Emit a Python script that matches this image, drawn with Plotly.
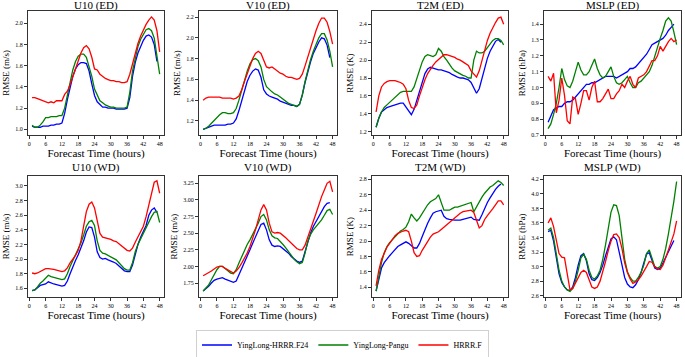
import plotly.graph_objects as go

HOURS = list(range(1, 49))
HOURS_F24 = list(range(1, 48))
SERIES_NAMES = ["YingLong-HRRR.F24", "YingLong-Pangu", "HRRR.F"]
COLORS = ["#0000ff", "#008000", "#ff0000"]

TITLES = ["U10 (ED)", "V10 (ED)", "T2M (ED)", "MSLP (ED)",
          "U10 (WD)", "V10 (WD)", "T2M (WD)", "MSLP (WD)"]
YLABELS = ["RMSE (m/s)", "RMSE (m/s)", "RMSE (K)", "RMSE (hPa)",
           "RMSE (m/s)", "RMSE (m/s)", "RMSE (K)", "RMSE (hPa)"]
X_TICKS = [0, 6, 12, 18, 24, 30, 36, 42, 48]

# ---- U10 (ED)
u10_ed_f24 = [1.03, 1.02, 1.02, 1.02, 1.03, 1.03, 1.03, 1.04, 1.04, 1.05, 1.05, 1.06, 1.15, 1.28, 1.40, 1.50,
              1.57, 1.61, 1.63, 1.63, 1.62, 1.55, 1.43, 1.32, 1.26, 1.23, 1.21, 1.21, 1.20, 1.20, 1.20, 1.19,
              1.19, 1.19, 1.19, 1.20, 1.30, 1.50, 1.63, 1.72, 1.79, 1.84, 1.88, 1.89, 1.87, 1.80, 1.64]
u10_ed_pangu = [1.04, 1.02, 1.02, 1.04, 1.07, 1.11, 1.11, 1.12, 1.12, 1.12, 1.13, 1.13, 1.20, 1.33, 1.46, 1.56,
                1.64, 1.69, 1.71, 1.71, 1.68, 1.60, 1.50, 1.38, 1.32, 1.27, 1.25, 1.23, 1.22, 1.21, 1.21, 1.20,
                1.20, 1.20, 1.20, 1.21, 1.35, 1.55, 1.68, 1.78, 1.85, 1.90, 1.94, 1.95, 1.93, 1.86, 1.70, 1.52]
u10_ed_hrrr = [1.30, 1.30, 1.29, 1.28, 1.27, 1.26, 1.25, 1.26, 1.25, 1.27, 1.27, 1.27, 1.33, 1.36, 1.42, 1.50,
               1.58, 1.66, 1.72, 1.77, 1.79, 1.76, 1.68, 1.57, 1.56, 1.52, 1.50, 1.48, 1.47, 1.46, 1.46, 1.45,
               1.45, 1.44, 1.44, 1.45, 1.52, 1.62, 1.72, 1.81, 1.88, 1.94, 1.99, 2.03, 2.06, 2.03, 1.93, 1.73]

# ---- V10 (ED)
v10_ed_f24 = [1.12, 1.13, 1.14, 1.15, 1.16, 1.16, 1.16, 1.16, 1.16, 1.17, 1.17, 1.18, 1.22, 1.30, 1.40, 1.50,
              1.58, 1.64, 1.68, 1.70, 1.69, 1.62, 1.50, 1.46, 1.44, 1.43, 1.42, 1.41, 1.39, 1.38, 1.37, 1.36,
              1.35, 1.35, 1.34, 1.36, 1.45, 1.57, 1.68, 1.77, 1.85, 1.91, 1.96, 2.00, 1.99, 1.93, 1.81]
v10_ed_pangu = [1.12, 1.13, 1.15, 1.18, 1.21, 1.24, 1.26, 1.28, 1.28, 1.27, 1.27, 1.28, 1.32, 1.40, 1.50, 1.60,
                1.68, 1.75, 1.79, 1.80, 1.78, 1.72, 1.60, 1.53, 1.50, 1.48, 1.46, 1.45, 1.43, 1.41, 1.39, 1.37,
                1.36, 1.35, 1.34, 1.36, 1.45, 1.58, 1.70, 1.79, 1.87, 1.94, 2.00, 2.04, 2.04, 1.98, 1.87, 1.72]
v10_ed_hrrr = [1.40, 1.42, 1.43, 1.43, 1.43, 1.43, 1.43, 1.42, 1.42, 1.42, 1.42, 1.41, 1.42, 1.44, 1.50, 1.58,
               1.66, 1.74, 1.80, 1.85, 1.87, 1.85, 1.78, 1.72, 1.71, 1.72, 1.70, 1.68, 1.66, 1.65, 1.63, 1.62,
               1.62, 1.61, 1.60, 1.61, 1.65, 1.73, 1.82, 1.91, 1.99, 2.07, 2.14, 2.19, 2.19, 2.15, 2.06, 1.94]

# ---- T2M (ED)
t2m_ed_f24 = [1.25, 1.35, 1.42, 1.45, 1.47, 1.48, 1.49, 1.50, 1.51, 1.52, 1.52, 1.48, 1.43, 1.39, 1.45, 1.55,
              1.66, 1.77, 1.85, 1.90, 1.92, 1.91, 1.90, 1.89, 1.89, 1.88, 1.87, 1.86, 1.84, 1.82, 1.81, 1.80,
              1.80, 1.79, 1.78, 1.75, 1.68, 1.63, 1.68, 1.80, 1.92, 2.02, 2.10, 2.16, 2.21, 2.23, 2.20]
t2m_ed_pangu = [1.25, 1.35, 1.42, 1.47, 1.50, 1.53, 1.55, 1.58, 1.61, 1.64, 1.65, 1.65, 1.65, 1.65, 1.70, 1.80,
                1.90, 1.98, 2.04, 2.06, 2.05, 2.04, 2.06, 2.13, 2.10, 2.04, 2.00, 1.95, 1.91, 1.88, 1.86, 1.84,
                1.83, 1.82, 1.80, 1.80, 2.00, 2.10, 2.08, 2.08, 2.10, 2.14, 2.18, 2.22, 2.24, 2.24, 2.22, 2.17]
t2m_ed_hrrr = [1.42, 1.60, 1.70, 1.74, 1.76, 1.77, 1.77, 1.77, 1.76, 1.75, 1.73, 1.68, 1.55, 1.47, 1.46, 1.50,
               1.60, 1.70, 1.78, 1.85, 1.90, 1.94, 1.98, 2.01, 2.04, 2.06, 2.06, 2.05, 2.04, 2.03, 2.01, 2.00,
               1.98, 1.96, 1.94, 1.88, 1.84, 1.81, 1.88, 2.00, 2.12, 2.22, 2.30, 2.37, 2.42, 2.47, 2.48, 2.40]

# ---- MSLP (ED)
mslp_ed_f24 = [0.78, 0.82, 0.86, 0.87, 0.88, 0.88, 0.90, 0.91, 0.91, 0.92, 0.94, 0.96, 0.98, 1.00, 1.02, 1.02,
               1.03, 1.03, 1.04, 1.05, 1.06, 1.07, 1.07, 1.07, 1.07, 1.06, 1.07, 1.08, 1.09, 1.10, 1.12, 1.12,
               1.13, 1.15, 1.17, 1.19, 1.21, 1.24, 1.27, 1.28, 1.29, 1.30, 1.31, 1.33, 1.36, 1.38, 1.40]
mslp_ed_pangu = [0.74, 0.77, 0.83, 0.90, 1.00, 1.12, 1.05, 1.01, 1.00, 1.04, 1.10, 1.16, 1.11, 1.08, 1.08, 1.10,
                 1.14, 1.18, 1.12, 1.08, 1.06, 1.07, 1.10, 1.13, 1.07, 1.03, 1.02, 1.03, 1.05, 1.07, 1.03, 1.00,
                 1.00, 1.03, 1.04, 1.06, 1.08, 1.10, 1.14, 1.20, 1.26, 1.31, 1.36, 1.42, 1.44, 1.42, 1.35, 1.27]
mslp_ed_hrrr = [1.07, 1.04, 1.09, 0.84, 0.92, 1.06, 0.95, 0.79, 0.77, 0.94, 0.93, 0.83, 0.90, 0.98, 0.98, 0.92,
                1.00, 1.04, 0.91, 0.91, 0.93, 0.96, 0.99, 0.93, 0.93, 0.96, 0.98, 1.02, 1.00, 1.04, 1.07, 1.02,
                1.00, 1.06, 1.07, 1.08, 1.10, 1.14, 1.17, 1.17, 1.20, 1.26, 1.23, 1.26, 1.29, 1.31, 1.29, 1.30]

# ---- U10 (WD)
u10_wd_f24 = [1.57, 1.58, 1.61, 1.64, 1.65, 1.66, 1.69, 1.67, 1.66, 1.65, 1.64, 1.63, 1.64, 1.70, 1.80, 1.90,
              1.98, 2.06, 2.15, 2.25, 2.37, 2.44, 2.43, 2.30, 2.10, 2.02, 2.00, 2.01, 1.99, 1.98, 1.96, 1.94,
              1.91, 1.87, 1.84, 1.83, 1.83, 1.92, 2.08, 2.20, 2.30, 2.38, 2.46, 2.60, 2.67, 2.70, 2.64]
u10_wd_pangu = [1.57, 1.58, 1.62, 1.67, 1.70, 1.74, 1.78, 1.76, 1.75, 1.74, 1.73, 1.72, 1.73, 1.80, 1.90, 1.98,
                2.05, 2.13, 2.22, 2.33, 2.45, 2.51, 2.53, 2.46, 2.25, 2.12, 2.08, 2.07, 2.05, 2.03, 2.01, 1.99,
                1.95, 1.91, 1.87, 1.85, 1.85, 1.95, 2.10, 2.20, 2.28, 2.34, 2.42, 2.50, 2.58, 2.64, 2.65, 2.50]
u10_wd_hrrr = [1.81, 1.80, 1.81, 1.83, 1.85, 1.87, 1.87, 1.87, 1.86, 1.85, 1.84, 1.83, 1.84, 1.88, 1.95, 2.00,
               2.05, 2.12, 2.25, 2.45, 2.65, 2.75, 2.78, 2.70, 2.50, 2.35, 2.30, 2.29, 2.29, 2.27, 2.25, 2.24,
               2.21, 2.18, 2.15, 2.12, 2.11, 2.15, 2.23, 2.30, 2.37, 2.45, 2.58, 2.75, 2.92, 3.05, 3.07, 2.90]

# ---- V10 (WD)
v10_wd_f24 = [1.63, 1.66, 1.70, 1.75, 1.79, 1.81, 1.82, 1.83, 1.81, 1.79, 1.77, 1.76, 1.78, 1.87, 1.97, 2.07,
              2.15, 2.25, 2.35, 2.45, 2.55, 2.63, 2.65, 2.55, 2.40, 2.32, 2.30, 2.31, 2.30, 2.27, 2.24, 2.20,
              2.15, 2.11, 2.08, 2.06, 2.08, 2.22, 2.38, 2.50, 2.60, 2.68, 2.76, 2.84, 2.90, 2.95, 2.96]
v10_wd_pangu = [1.63, 1.67, 1.72, 1.80, 1.88, 1.95, 2.00, 2.00, 1.97, 1.93, 1.90, 1.89, 1.95, 2.05, 2.15, 2.25,
                2.33, 2.40, 2.48, 2.55, 2.65, 2.75, 2.78, 2.70, 2.55, 2.46, 2.43, 2.42, 2.38, 2.33, 2.28, 2.22,
                2.17, 2.11, 2.07, 2.04, 2.06, 2.20, 2.38, 2.48, 2.55, 2.60, 2.65, 2.70, 2.77, 2.84, 2.86, 2.78]
v10_wd_hrrr = [1.86, 1.88, 1.90, 1.93, 1.96, 1.99, 2.00, 2.00, 1.97, 1.95, 1.93, 1.90, 1.93, 1.98, 2.05, 2.12,
               2.20, 2.30, 2.42, 2.55, 2.70, 2.85, 2.93, 2.85, 2.65, 2.52, 2.50, 2.51, 2.50, 2.47, 2.43, 2.39,
               2.35, 2.31, 2.27, 2.25, 2.25, 2.32, 2.45, 2.57, 2.68, 2.80, 2.93, 3.05, 3.15, 3.25, 3.28, 3.12]

# ---- T2M (WD)
t2m_wd_f24 = [1.35, 1.52, 1.65, 1.72, 1.77, 1.81, 1.85, 1.89, 1.93, 1.95, 1.97, 1.99, 1.97, 1.94, 1.91, 1.91,
              1.97, 2.06, 2.15, 2.23, 2.30, 2.36, 2.38, 2.39, 2.40, 2.32, 2.29, 2.28, 2.27, 2.27, 2.27, 2.27,
              2.28, 2.29, 2.30, 2.31, 2.28, 2.27, 2.27, 2.34, 2.43, 2.50, 2.56, 2.62, 2.67, 2.71, 2.74]
t2m_wd_pangu = [1.35, 1.55, 1.72, 1.85, 1.93, 1.98, 2.02, 2.06, 2.10, 2.13, 2.15, 2.18, 2.25, 2.35, 2.30, 2.26,
                2.30, 2.36, 2.42, 2.47, 2.51, 2.53, 2.55, 2.60, 2.50, 2.40, 2.40, 2.40, 2.42, 2.44, 2.44, 2.45,
                2.46, 2.47, 2.49, 2.50, 2.38, 2.45, 2.52, 2.57, 2.62, 2.66, 2.70, 2.72, 2.75, 2.78, 2.76, 2.72]
t2m_wd_hrrr = [1.42, 1.62, 1.76, 1.85, 1.92, 1.97, 2.02, 2.07, 2.10, 2.12, 2.13, 2.14, 2.12, 2.00, 1.85, 1.80,
               1.81, 1.88, 1.94, 2.00, 2.05, 2.09, 2.10, 2.12, 2.15, 2.18, 2.21, 2.25, 2.28, 2.31, 2.33, 2.36,
               2.38, 2.39, 2.40, 2.40, 2.37, 2.27, 2.17, 2.20, 2.28, 2.33, 2.37, 2.42, 2.47, 2.52, 2.52, 2.47]

# ---- MSLP (WD)
mslp_wd_f24 = [3.48, 3.50, 3.35, 3.10, 2.90, 2.78, 2.72, 2.68, 2.67, 2.72, 2.85, 3.02, 3.15, 3.18, 3.08, 2.90,
               2.82, 2.81, 2.85, 2.92, 3.02, 3.15, 3.28, 3.38, 3.41, 3.37, 3.20, 3.00, 2.85, 2.76, 2.72, 2.71,
               2.75, 2.82, 2.92, 3.05, 3.17, 3.19, 3.08, 2.98, 2.96, 2.98, 3.05, 3.13, 3.20, 3.28, 3.36]
mslp_wd_pangu = [3.50, 3.53, 3.40, 3.15, 2.95, 2.80, 2.72, 2.68, 2.66, 2.70, 2.80, 2.95, 3.12, 3.17, 3.10, 2.95,
                 2.85, 2.83, 2.87, 2.95, 3.10, 3.30, 3.55, 3.75, 3.85, 3.84, 3.70, 3.40, 3.10, 2.93, 2.85, 2.80,
                 2.80, 2.85, 2.92, 3.02, 3.18, 3.23, 3.12, 3.00, 2.98, 3.00, 3.10, 3.25, 3.45, 3.65, 3.90, 4.17]
mslp_wd_hrrr = [3.60, 3.67, 3.55, 3.35, 3.18, 3.13, 3.12, 2.90, 2.68, 2.70, 2.78, 2.85, 2.92, 2.95, 2.92, 2.82,
                2.72, 2.70, 2.72, 2.80, 2.92, 3.07, 3.22, 3.35, 3.44, 3.45, 3.40, 3.25, 3.05, 2.92, 2.83, 2.77,
                2.79, 2.82, 2.87, 2.93, 3.00, 3.07, 3.06, 3.00, 2.97, 2.96, 3.02, 3.12, 3.23, 3.32, 3.45, 3.63]

PANELS = [
    (u10_ed_f24, u10_ed_pangu, u10_ed_hrrr),
    (v10_ed_f24, v10_ed_pangu, v10_ed_hrrr),
    (t2m_ed_f24, t2m_ed_pangu, t2m_ed_hrrr),
    (mslp_ed_f24, mslp_ed_pangu, mslp_ed_hrrr),
    (u10_wd_f24, u10_wd_pangu, u10_wd_hrrr),
    (v10_wd_f24, v10_wd_pangu, v10_wd_hrrr),
    (t2m_wd_f24, t2m_wd_pangu, t2m_wd_hrrr),
    (mslp_wd_f24, mslp_wd_pangu, mslp_wd_hrrr),
]

Y_RANGES = [[0.947, 2.116], [1.065, 2.258], [1.163, 2.549], [0.70, 1.483],
            [1.482, 3.136], [1.54, 3.36], [1.275, 2.843], [2.582, 4.246]]
Y_DTICK = [0.2, 0.2, 0.2, 0.1, 0.2, 0.25, 0.2, 0.2]
Y_FMT = [".1f", ".1f", ".1f", ".1f", ".1f", ".2f", ".1f", ".1f"]

W, H = 685, 357
COL_PX = [(28, 164), (199, 337), (372, 508), (544, 681)]
ROW_PX = [(11, 135), (176, 297)]
TITLE_CENTER_PX = [5.5, 167.5]
LEGEND_CENTER_PX = 345

FONT = "Liberation Serif"

fig = go.Figure()
layout = dict(
    width=W, height=H, margin=dict(l=0, r=0, t=0, b=0, autoexpand=False),
    paper_bgcolor="white", plot_bgcolor="white",
    font=dict(family=FONT, color="black"),
    showlegend=True,
    legend=dict(orientation="h", x=0.5, xanchor="center", y=1 - LEGEND_CENTER_PX / H, yanchor="middle",
                bordercolor="#d0d0d0", borderwidth=1, font=dict(size=8, family=FONT),
                itemwidth=30, tracegroupgap=0),
    annotations=[],
)

for i in range(8):
    r, c = divmod(i, 4)
    n = i + 1
    xa = "x" if n == 1 else f"x{n}"
    ya = "y" if n == 1 else f"y{n}"
    for s in range(3):
        ys = PANELS[i][s]
        xs = HOURS_F24 if s == 0 else HOURS
        fig.add_trace(go.Scatter(x=xs[:len(ys)], y=ys, mode="lines", name=SERIES_NAMES[s],
                                 line=dict(color=COLORS[s], width=1.3),
                                 xaxis=xa, yaxis=ya, showlegend=(i == 0)))
    x0, x1 = COL_PX[c]
    y0, y1 = ROW_PX[r]
    axis_common = dict(showgrid=False, zeroline=False, showline=True, mirror=True,
                       linecolor="#333333", linewidth=1, ticks="outside", ticklen=3,
                       tickcolor="#333333", tickfont=dict(size=6, family=FONT))
    layout[f"xaxis{n if n > 1 else ''}"] = dict(
        domain=[x0 / W, x1 / W], anchor=ya, range=[-0.5, 49.6],
        tickvals=X_TICKS, title=dict(text="Forecast Time (hours)", font=dict(size=11, family=FONT), standoff=2),
        **axis_common)
    layout[f"yaxis{n if n > 1 else ''}"] = dict(
        domain=[1 - y1 / H, 1 - y0 / H], anchor=xa, range=Y_RANGES[i],
        dtick=Y_DTICK[i], tick0=0, tickformat=Y_FMT[i],
        title=dict(text=YLABELS[i], font=dict(size=9, family=FONT), standoff=4),
        **axis_common)
    layout["annotations"].append(dict(
        text=TITLES[i], x=(x0 + x1) / 2 / W, y=1 - TITLE_CENTER_PX[r] / H, xref="paper", yref="paper",
        xanchor="center", yanchor="middle", showarrow=False, font=dict(size=11, family=FONT)))

fig.update_layout(**layout)
fig.write_html("out.html", config={"displayModeBar": False},
               post_script="document.body.style.margin='0';document.body.style.overflow='hidden';")
